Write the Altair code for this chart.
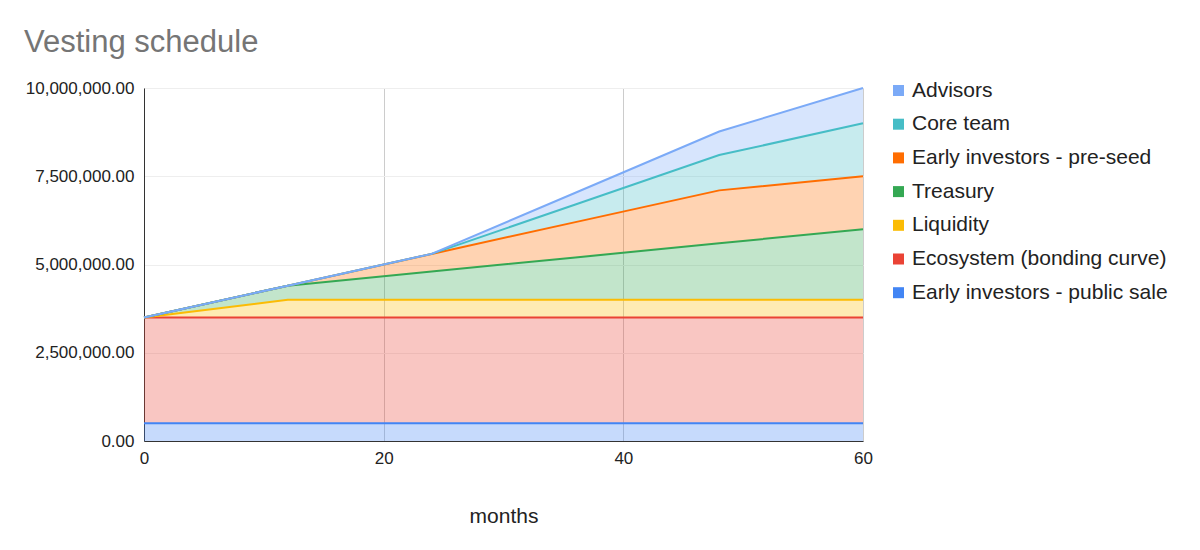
import altair as alt
import pandas as pd

months = [0, 12, 24, 36, 48, 60]
series_stack = [
    "Early investors - public sale",
    "Ecosystem (bonding curve)",
    "Liquidity",
    "Treasury",
    "Early investors - pre-seed",
    "Core team",
    "Advisors",
]
public_sale = [500000, 500000, 500000, 500000, 500000, 500000]
ecosystem = [3000000, 3000000, 3000000, 3000000, 3000000, 3000000]
liquidity = [0, 500000, 500000, 500000, 500000, 500000]
treasury = [0, 400000, 800000, 1200000, 1600000, 2000000]
pre_seed = [0, 0, 500000, 1000000, 1500000, 1500000]
core_team = [0, 0, 0, 500000, 1000000, 1500000]
advisors = [0, 0, 0, 333333, 666667, 1000000]

values = [public_sale, ecosystem, liquidity, treasury, pre_seed, core_team, advisors]
colors_stack = ["#4285F4", "#EA4335", "#FBBC04", "#34A853", "#FF6D01", "#46BDC6", "#7BAAF7"]

rows = []
for i, (name, vals) in enumerate(zip(series_stack, values)):
    for m, v in zip(months, vals):
        rows.append({"month": m, "series": name, "value": v, "order": i})
df = pd.DataFrame(rows)

legend_order = list(reversed(series_stack))
legend_colors = list(reversed(colors_stack))
color_scale = alt.Scale(domain=legend_order, range=legend_colors)

FONT = "Liberation Sans"

x_enc = alt.X(
    "month:Q",
    scale=alt.Scale(domain=[0, 60], nice=False),
    axis=alt.Axis(
        values=[0, 20, 40, 60], title="months", grid=True, gridColor="#cccccc",
        domain=True, domainColor="#333333", ticks=False, labelFontSize=17,
        labelColor="#222222", titleFontSize=21, titleFontWeight="normal",
        titleColor="#222222", titlePadding=39, labelPadding=9, labelFont=FONT, titleFont=FONT,
        labelFlush=False,
    ),
)
y_scale = alt.Scale(domain=[0, 10000000], nice=False)

area = alt.Chart(df).mark_area(opacity=0.3).encode(
    x=x_enc,
    y=alt.Y(
        "value:Q", scale=y_scale, stack="zero",
        axis=alt.Axis(
            values=[0, 2500000, 5000000, 7500000, 10000000], format=",.2f", title=None,
            grid=True, gridColor="#eeeeee", domain=True, domainColor="#333333",
            ticks=False, labelFontSize=17, labelColor="#222222", labelPadding=10, labelFont=FONT,
        ),
    ),
    color=alt.Color(
        "series:N", scale=color_scale, sort=legend_order,
        legend=alt.Legend(
            title=None, orient="none", legendX=744, legendY=-8, symbolType="square",
            symbolSize=121, labelFontSize=21, labelColor="#222222", labelFont=FONT,
            rowPadding=11.7, symbolStrokeWidth=0, symbolOpacity=1, labelOffset=3,
            labelLimit=400,
        ),
    ),
    order=alt.Order("order:Q", sort="ascending"),
)

line = alt.Chart(df).transform_stack(
    stack="value", groupby=["month"], as_=["y0", "y1"], sort=[alt.SortField("order", "ascending")]
).mark_line(strokeWidth=2).encode(
    x="month:Q",
    y=alt.Y("y1:Q", scale=y_scale),
    color=alt.Color("series:N", scale=color_scale, legend=None),
    detail="series:N",
)

chart = (
    alt.layer(area, line)
    .properties(
        width=719,
        height=353,
        title=alt.TitleParams(
            "Vesting schedule", anchor="start", frame="group", dx=-120, offset=20,
            fontSize=31, fontWeight="normal", color="#757575", font=FONT,
        ),
        autosize=alt.AutoSizeParams(type="none"),
        padding={"left": 136, "top": 80, "right": 320, "bottom": 95},
    )
    .configure_view(stroke=None)
    .configure(background="white")
)

chart.save("out.html", embed_options={"renderer": "svg", "actions": False})
